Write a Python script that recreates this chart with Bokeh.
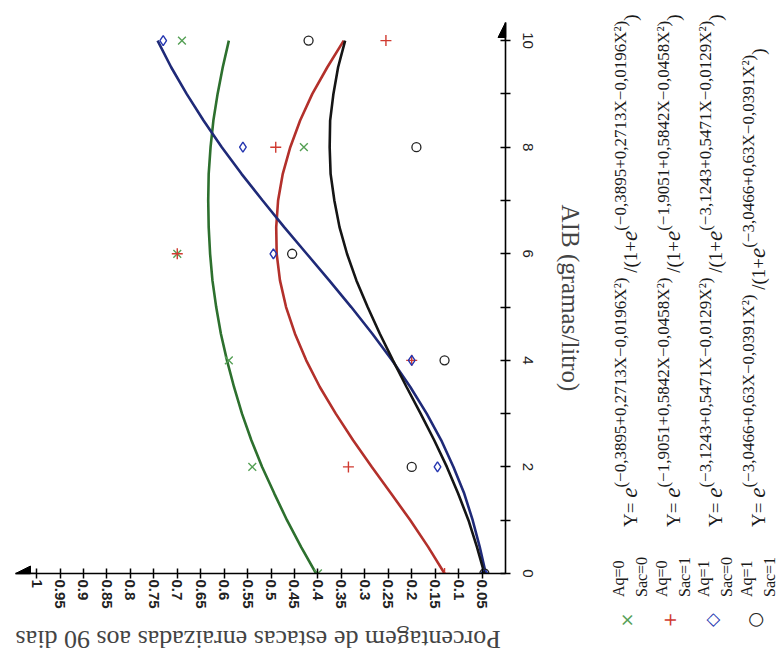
import math
from bokeh.plotting import figure
from bokeh.layouts import row
from bokeh.models import Range1d, FixedTicker, Arrow, NormalHead, NumeralTickFormatter, Div
from bokeh.embed import file_html
from bokeh.resources import INLINE

# ---------------- data ----------------
aib_doses = [0, 2, 4, 6, 8, 10]
aq0_sac0 = [0.40, 0.54, 0.59, 0.70, 0.43, 0.69]
aq0_sac1 = [0.13, 0.335, 0.20, 0.70, 0.49, 0.255]
aq1_sac0 = [0.045, 0.145, 0.20, 0.495, 0.56, 0.73]
aq1_sac1 = [0.045, 0.20, 0.13, 0.455, 0.19, 0.42]

# fitted curves
curve_aib = [0, 0.5, 1, 1.5, 2, 2.5, 3, 3.5, 4, 4.5, 5, 5.5, 6, 6.5, 7, 7.5, 8, 8.5, 9, 9.5, 10]
fit_aq0_sac0 = [0.404, 0.436, 0.466, 0.493, 0.519, 0.542, 0.562, 0.579, 0.594, 0.607, 0.617,
                0.625, 0.630, 0.633, 0.634, 0.633, 0.629, 0.623, 0.614, 0.603, 0.590]
fit_aq0_sac1 = [0.130, 0.165, 0.203, 0.244, 0.285, 0.325, 0.362, 0.396, 0.425, 0.449, 0.468,
                0.481, 0.488, 0.489, 0.485, 0.475, 0.459, 0.438, 0.412, 0.380, 0.345]
fit_aq1_sac0 = [0.042, 0.055, 0.070, 0.088, 0.111, 0.137, 0.168, 0.203, 0.242, 0.284, 0.329,
                0.376, 0.424, 0.472, 0.518, 0.563, 0.605, 0.644, 0.680, 0.713, 0.742]
fit_aq1_sac1 = [0.045, 0.061, 0.079, 0.101, 0.125, 0.152, 0.181, 0.211, 0.240, 0.268, 0.294,
                0.318, 0.338, 0.354, 0.365, 0.373, 0.375, 0.374, 0.367, 0.357, 0.342]

pct_ticks = [0.05, 0.1, 0.15, 0.2, 0.25, 0.3, 0.35, 0.4, 0.45, 0.5,
             0.55, 0.6, 0.65, 0.7, 0.75, 0.8, 0.85, 0.9, 0.95, 1.0]
pct_tick_labels = ["0.05", "0.1", "0.15", "0.2", "0.25", "0.3", "0.35", "0.4", "0.45", "0.5",
                   "0.55", "0.6", "0.65", "0.7", "0.75", "0.8", "0.85", "0.9", "0.95", "1"]
aib_ticks = [0, 2, 4, 6, 8, 10]
aib_tick_labels = ["0", "2", "4", "6", "8", "10"]
aib_minor_ticks = [1, 3, 5, 7, 9]

legend_aq = ["Aq=0", "Aq=0", "Aq=1", "Aq=1"]
legend_sac = ["Sac=0", "Sac=1", "Sac=0", "Sac=1"]
legend_symbols = ["\u00d7", "+", "\u25c7", "\u25cb"]
eq_exponents = ["(\u22120,3895+0,2713X\u22120,0196X\u00b2)",
                "(\u22121,9051+0,5842X\u22120,0458X\u00b2)",
                "(\u22123,1243+0,5471X\u22120,0129X\u00b2)",
                "(\u22123,0466+0,63X\u22120,0391X\u00b2)"]

x_label = "AIB (gramas/litro)"
y_label = "Porcentagem de estacas enraizadas aos 90 dias"

# ---------------- styles ----------------
green_line, red_line, blue_line, black_line = "#2d702e", "#b3302b", "#1f2a78", "#151515"
green_mk, red_mk, blue_mk, black_mk = "#55a055", "#d03a30", "#2536b0", "#222222"
mk_colors = [green_mk, red_mk, blue_mk, black_mk]

W1 = 600
p = figure(width=W1, height=671, output_backend="svg", toolbar_location=None,
           x_range=Range1d(1.045, 0), y_range=Range1d(0, 10.34),
           y_axis_location="right", title=None,
           min_border_left=15, min_border_top=22, min_border_right=W1 - 505, min_border_bottom=96)
p.xgrid.visible = False
p.ygrid.visible = False
p.outline_line_color = None

xa = p.xaxis[0]
xa.ticker = FixedTicker(ticks=pct_ticks)
xa.formatter = NumeralTickFormatter(format="0.[00]")
xa.major_label_overrides = {t: l for t, l in zip(pct_ticks, pct_tick_labels)}
xa.major_label_orientation = "vertical"
xa.major_label_text_font = "Liberation Sans"
xa.major_label_text_font_size = "15px"
xa.major_label_text_font_style = "bold"
xa.major_label_text_color = "#222222"
xa.major_label_standoff = 1
xa.major_tick_in = 5
xa.major_tick_out = 5
xa.minor_tick_line_color = None
xa.axis_line_width = 1.6
xa.major_tick_line_width = 1.5
xa.axis_label = y_label
xa.axis_label_orientation = math.pi
xa.axis_label_align = "end"
xa.axis_label_text_font = "Liberation Serif"
xa.axis_label_text_font_style = "normal"
xa.axis_label_text_font_size = "26px"
xa.axis_label_standoff = 28

ya = p.yaxis[0]
ya.ticker = FixedTicker(ticks=aib_ticks, minor_ticks=aib_minor_ticks)
ya.major_label_overrides = {t: l for t, l in zip(aib_ticks, aib_tick_labels)}
ya.major_label_orientation = "vertical"
ya.major_label_text_font = "Liberation Sans"
ya.major_label_text_font_size = "15px"
ya.major_label_text_color = "#222222"
ya.major_label_standoff = 12
ya.major_tick_in = 5
ya.major_tick_out = 5
ya.minor_tick_in = 5
ya.minor_tick_out = 5
ya.axis_line_width = 1.6
ya.major_tick_line_width = 1.5
ya.minor_tick_line_width = 1.5
ya.axis_label = x_label
ya.axis_label_orientation = "vertical"
ya.axis_label_text_font = "Liberation Serif"
ya.axis_label_text_font_style = "normal"
ya.axis_label_text_font_size = "25px"
ya.axis_label_standoff = 21

# arrow heads on the axes
p.add_layout(Arrow(end=NormalHead(size=15, fill_color="black", line_color="black"),
                   x_start=1.0, y_start=0, x_end=1.045, y_end=0, line_width=1.5))
p.add_layout(Arrow(end=NormalHead(size=15, fill_color="black", line_color="black"),
                   x_start=0, y_start=10.0, x_end=0, y_end=10.34, line_width=1.5))

# fitted curves
for vals, col in [(fit_aq0_sac0, green_line), (fit_aq0_sac1, red_line),
                  (fit_aq1_sac0, blue_line), (fit_aq1_sac1, black_line)]:
    p.line(x=vals, y=curve_aib, line_color=col, line_width=2.6)

# observed points
p.scatter(x=aq0_sac0, y=aib_doses, marker="x", size=11, line_color=green_mk, line_width=1.4)
p.scatter(x=aq0_sac1, y=aib_doses, marker="cross", size=11, line_color=red_mk, line_width=1.4)
p.scatter(x=aq1_sac0, y=aib_doses, marker="diamond", size=10, line_color=blue_mk,
          fill_color=None, line_width=1.4)
p.scatter(x=aq1_sac1, y=aib_doses, marker="circle", size=9, line_color=black_mk,
          fill_color=None, line_width=1.3)

# ---------------- legend with equations: rotated HTML panel to the right ----------------
W2 = 781 - W1
H = 671
LH = 30  # line box height used for baseline placement


def item(u, v_base, fs, content, extra=""):
    off = LH / 2 + 0.3375 * fs
    return (f'<div style="position:absolute;left:{u:.1f}px;top:{v_base - off:.1f}px;'
            f'white-space:nowrap;line-height:{LH}px;font-size:{fs}px;{extra}">{content}</div>')


def sym(u, v_center, fs, ch, color, weight="normal"):
    return (f'<div style="position:absolute;left:{u - 12}px;top:{v_center - LH / 2:.1f}px;width:24px;'
            f'text-align:center;line-height:{LH}px;font-size:{fs}px;color:{color};font-weight:{weight};'
            f'font-family:\'DejaVu Sans\',sans-serif;">{ch}</div>')


E_STYLE = "font-size:23px;line-height:0;font-style:italic;"
X_STYLE = "font-size:17px;line-height:0;vertical-align:11px;"
row_base = [624, 667, 709, 752]   # page x of first legend line baseline
parts = []
for i in range(4):
    bx = row_base[i] - W1
    parts.append(sym(H - 620, bx + 3, 18, legend_symbols[i], mk_colors[i],
                     "bold" if i == 2 else "normal"))
    parts.append(item(H - 597, bx, 16, legend_aq[i]))
    parts.append(item(H - 597, bx + 23, 16, legend_sac[i]))
    ex = bx + 13
    eq = (f'Y= <span style="{E_STYLE}">e</span><span style="{X_STYLE}">{eq_exponents[i]}</span>'
          f' /(1+<span style="{E_STYLE}">e</span><span style="{X_STYLE}">{eq_exponents[i]}</span>)')
    parts.append(item(H - 527, ex, 19, eq))

html = (f'<div style="position:relative;width:{W2}px;height:{H}px;overflow:hidden;background:white;">'
        f'<div style="position:absolute;left:0;top:{H}px;width:{H}px;height:{W2}px;'
        f'transform-origin:0 0;transform:rotate(-90deg);'
        f'font-family:\'Liberation Serif\',serif;color:#1a1a1a;">'
        + "".join(parts) + '</div></div>')

legend_panel = Div(text=html, width=W2, height=H, margin=0)

open("out.html", "w", encoding="utf-8").write(file_html(row(p, legend_panel), INLINE))
